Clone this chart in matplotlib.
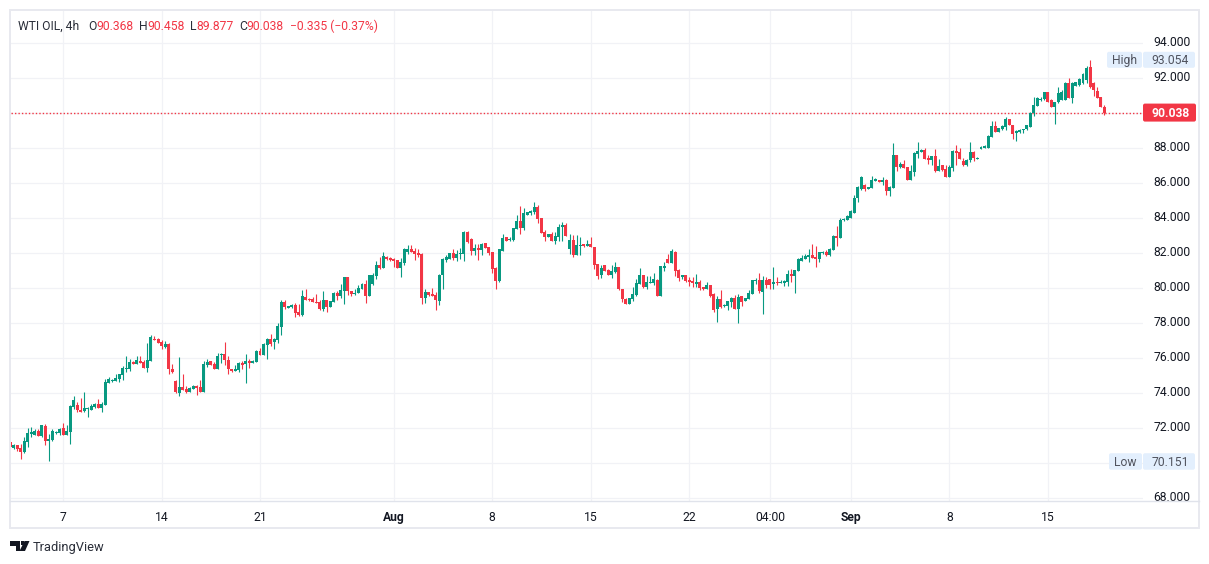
import matplotlib
matplotlib.use("Agg")
import matplotlib.pyplot as plt
from matplotlib.patches import Rectangle, Polygon, FancyBboxPatch
from matplotlib.lines import Line2D
from matplotlib.transforms import Bbox, Affine2D

W, H = 1209, 564
GREEN, RED = "#089981", "#F23645"
GRID, FRAME, TXT = "#f1f2f6", "#e8e9ef", "#131722"
FONT = "Roboto"

opens = [71.20,
 70.88,71.05,70.88,70.65,71.22,71.68,71.62,71.85,71.56,
 72.13,71.28,71.33,71.73,71.73,72.02,71.62,71.79,73.22,73.33,
 73.05,72.99,73.10,73.05,73.22,73.39,73.16,73.33,74.59,74.70,
 74.70,74.82,75.05,75.39,75.39,75.79,75.68,75.83,75.79,75.45,
 75.85,77.10,77.10,76.93,76.65,76.82,75.39,74.70,74.02,74.36,
 74.25,74.08,74.25,74.42,74.36,74.08,75.62,75.85,75.68,75.39,
 76.19,76.25,75.90,75.39,75.28,75.33,75.73,75.68,75.85,75.73,
 75.79,76.42,76.19,76.76,77.10,76.93,77.05,77.79,79.22,78.88,
 78.93,79.05,78.65,78.48,79.50,79.39,79.39,79.22,79.22,78.82,
 79.33,78.93,79.22,79.73,79.56,79.85,80.65,79.85,79.68,79.73,
 79.96,80.25,79.56,80.25,80.70,81.33,81.16,81.79,81.73,81.68,
 81.62,81.16,81.45,82.08,82.25,82.13,82.02,81.96,79.45,79.79,
 79.68,79.62,79.28,80.76,81.62,81.68,82.02,81.73,81.96,81.96,
 83.22,82.82,82.13,82.30,82.19,82.59,82.36,82.08,81.16,80.42,
 82.13,82.93,82.76,82.76,83.39,83.85,83.45,84.19,84.30,84.36,
 84.65,84.02,83.22,82.93,83.10,82.70,82.93,83.50,83.62,82.25,
 82.76,81.90,82.42,82.53,82.42,82.53,82.36,81.39,80.76,81.33,
 81.05,80.76,80.93,81.22,79.96,79.39,79.10,79.39,79.62,80.25,
 80.76,80.08,80.30,80.30,80.48,79.56,81.16,81.68,81.45,82.08,
 81.05,80.65,80.76,80.48,80.42,80.25,80.36,80.08,79.96,80.19,
 79.68,78.82,79.39,78.99,78.99,79.22,79.45,78.82,79.56,79.28,
 79.39,79.68,80.42,80.48,79.79,80.48,80.53,80.25,80.36,80.30,
 80.30,80.36,80.82,80.70,80.99,81.56,81.68,81.79,81.90,81.79,
 81.68,82.02,82.08,81.90,82.19,82.99,82.88,83.90,83.90,84.02,
 84.30,85.16,85.68,85.90,85.68,85.73,86.13,86.19,86.08,86.19,
 85.56,85.73,87.62,86.93,87.10,86.93,86.19,86.65,87.68,87.79,
 87.90,87.45,87.33,87.56,86.70,87.05,86.82,86.36,86.88,87.85,
 87.79,87.28,87.05,87.33,87.79,87.39,87.96,88.00,88.00,88.63,
 89.28,88.91,89.09,89.20,89.66,89.33,88.86,88.91,89.03,89.12,
 89.20,90.00,90.42,90.76,90.80,91.22,90.76,90.38,90.63,90.76,
 90.76,91.75,90.90,91.58,91.62,91.71,91.90,92.63,91.75,91.26,90.93,90.368]

highs = [71.24,
 71.10,71.05,71.10,71.50,72.02,72.08,71.96,71.96,72.19,
 72.25,71.68,71.96,71.85,72.02,72.30,72.19,73.33,73.85,73.50,
 73.73,74.08,73.22,73.39,73.45,73.68,73.50,74.82,74.93,74.82,
 75.10,75.10,75.56,76.13,75.96,75.85,76.13,76.13,75.90,76.88,
 77.33,77.28,77.16,77.05,76.99,76.88,75.68,74.76,76.08,75.10,
 74.42,74.36,74.48,74.48,74.76,75.85,75.96,75.85,75.79,76.30,
 76.30,76.93,76.13,75.39,75.62,75.79,75.85,76.25,75.96,75.90,
 76.48,76.59,76.88,77.16,77.39,77.16,78.02,79.33,79.33,78.99,
 79.10,79.16,79.10,79.90,79.96,79.45,79.50,79.68,79.33,79.85,
 79.33,79.28,79.79,79.85,80.25,80.65,80.65,79.85,79.96,80.19,
 80.30,80.48,80.76,80.88,81.56,81.79,82.08,81.85,81.79,81.73,
 81.62,81.73,82.30,82.48,82.48,82.30,82.25,82.02,79.96,79.79,
 80.02,79.79,80.82,81.73,81.90,82.02,82.25,82.19,82.30,83.28,
 83.28,82.88,82.53,82.53,82.59,82.59,82.36,82.08,81.22,82.25,
 83.10,82.93,82.93,83.45,84.19,84.70,84.59,84.36,84.48,84.93,
 84.76,84.02,83.33,83.10,83.22,83.22,83.68,83.79,83.73,83.10,
 83.05,83.05,82.93,82.53,82.76,82.93,82.36,81.39,81.33,81.33,
 81.10,81.33,81.50,81.22,79.96,79.45,79.45,80.08,80.53,81.16,
 80.76,80.70,80.70,80.88,80.53,81.28,81.50,81.96,82.25,82.13,
 81.10,80.76,80.76,80.65,80.65,80.82,80.48,80.08,80.36,80.19,
 79.73,79.56,79.90,79.10,79.28,79.50,79.62,79.68,79.56,79.45,
 79.90,80.48,80.59,80.88,80.70,80.65,80.53,81.22,80.65,80.48,
 80.48,81.05,81.10,81.05,81.73,81.90,81.96,82.25,82.53,82.42,
 82.08,82.13,82.19,82.30,83.05,83.56,84.02,84.02,84.19,84.48,
 85.33,85.85,86.42,85.96,85.79,86.42,86.30,86.19,86.36,86.25,
 85.85,88.30,87.62,87.22,87.33,86.93,87.05,87.79,88.36,87.96,
 88.02,87.62,87.56,87.96,87.39,87.05,87.05,87.05,87.90,88.19,
 88.02,87.45,87.39,88.36,87.85,87.50,88.15,88.19,88.76,89.56,
 89.56,89.14,89.33,89.79,89.66,89.33,89.05,89.10,89.10,89.31,
 90.10,90.95,90.95,90.95,91.22,91.22,90.82,90.67,91.52,91.33,
 91.81,92.00,91.77,91.79,92.00,92.29,92.70,93.054,91.81,91.49,90.93,90.458]

lows = [70.90,
 70.82,70.72,70.27,70.59,70.93,71.50,71.62,71.56,71.50,
 71.05,70.151,71.28,71.68,71.62,71.62,71.62,71.10,73.10,72.93,
 72.93,72.93,72.65,73.05,73.16,73.16,72.93,73.33,74.59,74.65,
 74.70,74.65,74.76,75.22,75.28,75.68,75.68,75.73,75.45,75.22,
 75.85,77.05,76.88,76.53,76.59,75.10,75.16,74.02,73.85,74.19,
 74.02,74.08,74.25,73.90,74.08,74.08,75.50,75.62,75.39,75.39,
 75.73,75.62,75.10,75.22,75.28,75.22,75.39,74.59,75.45,75.73,
 75.79,76.19,76.19,75.96,76.70,76.53,76.88,77.33,78.82,78.88,
 78.88,78.36,78.42,78.42,79.33,79.28,79.22,79.16,78.76,78.70,
 78.65,78.93,79.22,79.33,79.45,79.10,79.62,79.56,79.62,79.73,
 79.96,79.16,79.56,80.19,80.53,81.10,81.16,81.62,81.56,81.22,
 81.16,80.65,81.33,81.96,82.08,81.62,81.79,79.10,79.16,79.56,
 79.56,78.76,79.05,79.96,81.50,81.68,81.62,81.56,81.68,81.56,
 82.59,81.90,81.90,81.62,81.90,82.30,81.90,80.88,79.96,80.36,
 82.13,82.70,82.70,82.70,83.39,83.10,83.33,84.19,84.19,84.25,
 83.73,83.16,82.70,82.93,82.70,82.53,82.70,82.70,82.99,81.96,
 81.79,81.90,81.90,82.36,82.42,82.36,81.10,80.53,80.59,80.99,
 80.76,80.59,80.88,79.90,79.22,79.10,79.10,79.28,79.56,80.25,
 80.02,79.96,80.30,80.19,79.56,79.56,80.99,81.45,81.45,80.70,
 80.42,80.53,80.36,80.13,80.08,80.08,79.90,79.90,79.96,79.50,
 78.65,78.08,78.88,78.93,78.76,78.93,78.82,78.02,78.99,79.28,
 79.39,79.68,80.25,79.73,78.53,80.02,79.96,79.96,80.19,80.30,
 80.13,80.13,80.36,79.73,80.99,81.56,81.68,81.50,81.73,81.22,
 81.50,81.96,81.85,81.85,82.19,82.42,82.88,83.85,83.90,84.02,
 84.30,84.93,85.62,85.56,85.68,85.73,86.13,86.08,85.90,85.33,
 85.28,85.73,86.70,86.88,86.88,86.19,86.19,86.42,87.45,87.79,
 87.39,87.10,87.05,86.65,86.70,86.70,86.36,86.36,86.70,87.05,
 87.39,86.99,86.99,87.22,87.28,87.39,87.96,88.00,88.00,88.63,
 88.91,88.91,89.05,89.05,89.33,88.53,88.44,88.86,88.86,89.05,
 89.20,89.85,90.42,90.72,90.76,90.67,90.34,89.39,90.57,90.76,
 90.76,90.86,90.61,91.58,91.56,91.66,91.71,91.43,90.99,90.86,90.34,89.877]

closes = [70.95,
 71.05,70.82,70.65,71.28,71.73,71.79,71.85,71.56,72.19,
 71.28,71.39,71.85,71.79,71.96,71.62,71.85,73.28,73.62,73.05,
 72.93,73.16,73.16,73.28,73.39,73.16,73.39,74.65,74.82,74.76,
 74.88,75.10,75.45,75.45,75.79,75.68,75.90,75.73,75.45,75.90,
 77.22,77.05,76.88,76.70,76.82,75.39,75.22,74.08,74.36,74.19,
 74.08,74.30,74.42,74.30,74.08,75.68,75.79,75.62,75.39,76.13,
 76.25,75.90,75.39,75.28,75.39,75.73,75.62,75.85,75.73,75.85,
 76.42,76.19,76.82,77.10,76.82,77.10,77.85,79.22,78.93,78.99,
 79.05,78.59,78.48,79.56,79.33,79.33,79.22,79.16,78.82,79.33,
 78.93,79.28,79.73,79.56,79.90,80.65,79.85,79.68,79.73,80.02,
 80.25,79.56,80.76,80.76,81.33,81.16,81.85,81.68,81.62,81.56,
 81.16,81.50,82.25,82.25,82.08,81.96,81.90,79.45,79.79,79.62,
 79.56,79.33,80.76,81.68,81.79,82.02,81.73,81.96,82.02,83.22,
 82.65,82.13,82.30,82.19,82.53,82.30,82.02,81.10,80.42,82.25,
 82.88,82.70,82.82,83.45,83.85,83.45,84.30,84.36,84.42,84.65,
 83.96,83.16,82.93,83.10,82.70,82.99,83.50,83.62,82.99,82.76,
 81.90,82.48,82.48,82.42,82.53,82.36,81.33,80.70,81.16,80.99,
 80.76,80.99,81.22,79.96,79.39,79.10,79.45,79.68,80.30,80.76,
 80.08,80.36,80.36,80.53,79.56,81.28,81.28,81.45,82.13,80.99,
 80.59,80.76,80.42,80.36,80.30,80.36,80.02,79.96,80.19,79.56,
 78.76,79.39,78.93,79.05,79.28,79.45,78.82,79.50,79.22,79.45,
 79.73,80.48,80.48,79.85,80.48,80.19,80.19,80.36,80.30,80.36,
 80.42,80.82,80.70,81.05,81.68,81.73,81.85,81.90,81.73,81.68,
 82.08,82.08,81.90,82.25,82.99,82.88,83.90,83.96,84.13,84.42,
 85.16,85.79,86.36,85.68,85.79,86.19,86.25,86.08,86.19,85.56,
 85.79,87.62,86.93,87.10,86.88,86.19,86.70,87.73,87.85,87.90,
 87.39,87.33,87.56,86.70,86.99,86.76,86.36,86.93,87.85,87.73,
 87.39,87.05,87.33,87.79,87.45,87.45,88.10,88.11,88.70,89.28,
 88.91,89.14,89.28,89.68,89.33,88.82,88.99,89.03,89.09,89.31,
 90.04,90.48,90.90,90.84,91.22,90.67,90.38,90.67,91.18,91.24,
 91.75,90.90,91.71,91.79,91.94,92.25,92.57,91.52,91.30,90.90,90.38,90.038]

y_ticks = [68, 70, 72, 74, 76, 78, 80, 82, 84, 86, 88, 90, 92, 94]
y_tick_labels = ["68.000", "", "72.000", "74.000", "76.000", "78.000", "80.000",
                 "82.000", "84.000", "86.000", "88.000", "", "92.000", "94.000"]
x_tick_bars = [15, 43, 71, 109, 137, 165, 193, 216, 239, 267, 295]
x_tick_labels = ["7", "14", "21", "Aug", "8", "15", "22", "04:00", "Sep", "8", "15"]
bold_x_labels = ["Aug", "Sep"]
session_high = 93.054
session_low = 70.151

fig = plt.figure(figsize=(W / 100, H / 100), dpi=100, facecolor="white")

def fx(px):
    return px / W

def fy(py):
    return 1 - py / H

L, R, T, B = 10.5, 1143.0, 10.5, 501.0
ax = fig.add_axes([fx(L), fy(B), fx(R - L), fy(T) - fy(B)])
ax.set_xlim(0.06, 322.06)
ax.set_ylim(67.85, 95.87)
for s in ax.spines.values():
    s.set_visible(False)

ax.set_axisbelow(True)
ax.grid(True, color=GRID, linewidth=0.9)
ax.yaxis.tick_right()
ax.set_yticks(y_ticks)
ax.set_yticklabels(y_tick_labels, fontsize=8.7, color=TXT, family=FONT)
ax.set_xticks(x_tick_bars)
ax.set_xticklabels(x_tick_labels, fontsize=8.7, color=TXT, family=FONT)
ax.tick_params(axis="both", length=0)
ax.tick_params(axis="y", pad=7.5)
ax.tick_params(axis="x", pad=7)
for lab in ax.get_xticklabels():
    if lab.get_text() in bold_x_labels:
        lab.set_fontweight("bold")
clip = Bbox([[0, H - B], [W, H]])
shift = Affine2D().translate(0, 2.0)
for lab in ax.get_yticklabels():
    lab.set_clip_on(True)
    lab.set_clip_box(clip)
    lab.set_transform(lab.get_transform() + shift)

xs = list(range(len(opens)))
colors = [GREEN if c >= o else RED for o, c in zip(opens, closes)]
ax.vlines(xs, lows, highs, colors=colors, linewidth=0.8, zorder=3)
ax.bar(xs, [abs(c - o) for o, c in zip(opens, closes)],
       bottom=[min(o, c) for o, c in zip(opens, closes)],
       width=0.85, color=colors, linewidth=0, zorder=4)

ax.axhline(closes[-1], color=RED, linewidth=1.0, linestyle=(0, (1, 1.5)), zorder=2)

pix = Affine2D().scale(1 / W, -1 / H).translate(0, 1) + fig.transFigure

def fig_rect(x0, y0, x1, y1, color, z=5):
    p = FancyBboxPatch((x0 + 2, y0 + 2), x1 - x0 - 4, y1 - y0 - 4,
                       boxstyle="round,pad=2,rounding_size=2",
                       facecolor=color, edgecolor="none",
                       transform=pix, zorder=z)
    fig.add_artist(p)

fig.add_artist(Rectangle((10, 10), 1189, 518, fill=False, edgecolor=FRAME,
                         linewidth=1.4, transform=pix))
fig.add_artist(Line2D([10, 1199], [501, 501], color="#e0e3eb", linewidth=1.0, transform=pix))

BOX = "#e3effd"
MUTED = "#50535e"
def pix_text(x, y, s, color=TXT, ha="left", size=8.7, weight="normal", z=6):
    fig.text(x / W, 1 - y / H, s, color=color, ha=ha, va="center_baseline",
             fontsize=size, family=FONT, fontweight=weight, zorder=z)

def y_px(price):
    return float(H - ax.transData.transform((0, price))[1])

yh = y_px(session_high)
fig_rect(1107, yh - 8, 1142, yh + 8, BOX)
fig_rect(1143, yh - 8, 1195, yh + 8, BOX)
pix_text(1124.5, yh - 0.5, "High", MUTED, "center")
pix_text(1170, yh - 0.5, f"{session_high:.3f}", MUTED, "center")

yl = y_px(session_low)
fig_rect(1109, yl - 7.5, 1142, yl + 9, BOX)
fig_rect(1143, yl - 7.5, 1195, yl + 9, BOX)
pix_text(1125.5, yl, "Low", MUTED, "center")
pix_text(1170, yl, f"{session_low:.3f}", MUTED, "center")

yc = y_px(closes[-1])
fig_rect(1143, yc - 9, 1196, yc + 9, RED)
pix_text(1171, yc - 0.5, f"{closes[-1]:.3f}", "white", "center", weight="bold")

pix_text(18, 25, "WTI OIL, 4h", "#2a2e39")
pix_text(88, 25, "O", "#2a2e39")
pix_text(96, 25, f"{opens[-1]:.3f}", RED)
pix_text(139, 25, "H", "#2a2e39")
pix_text(147, 25, f"{highs[-1]:.3f}", RED)
pix_text(190, 25, "L", "#2a2e39")
pix_text(196.5, 25, f"{lows[-1]:.3f}", RED)
pix_text(239, 25, "C", "#2a2e39")
pix_text(246.5, 25, f"{closes[-1]:.3f}", RED)
pix_text(290, 25, "\u22120.335 (\u22120.37%)", RED)

LOGO = "#131722"
fig.add_artist(Polygon([(10, 541), (20, 541), (20, 551), (15.5, 551), (15.5, 545.5), (10, 545.5)],
                       closed=True, facecolor=LOGO, edgecolor="none", transform=pix))
fig.add_artist(Polygon([(24.5, 541), (29.5, 541), (25, 551), (19.5, 551)],
                       closed=True, facecolor=LOGO, edgecolor="none", transform=pix))
fig.add_artist(Rectangle((20.5, 541), 3.5, 4, facecolor=LOGO, edgecolor="none", transform=pix))
pix_text(33, 546.5, "TradingView", "#2a2e39", size=9.3)

fig.savefig("out.png", dpi=100, facecolor="white")
